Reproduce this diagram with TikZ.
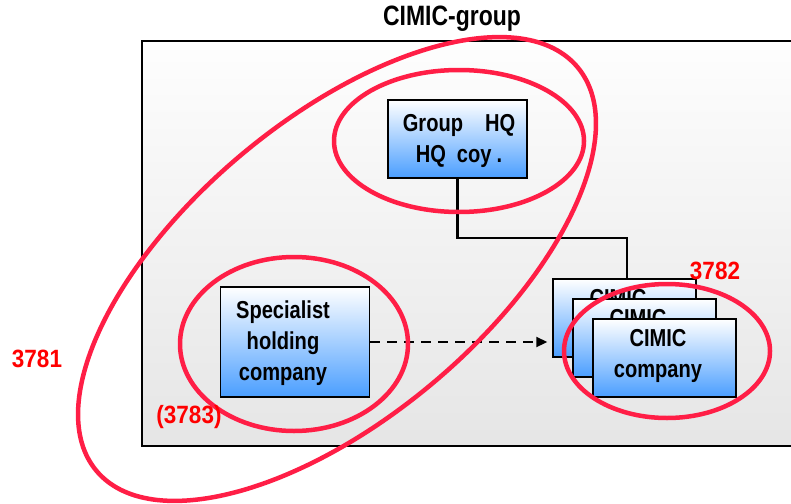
\documentclass[tikz,border=0pt]{standalone}
\usepackage{fontspec}
\newfontfamily\lbl{Liberation Sans}[FakeStretch=0.82]
\newfontfamily\lblw{Liberation Sans}[FakeStretch=0.9]
\usetikzlibrary{arrows.meta}
\definecolor{boxblue}{RGB}{74,158,255}
\definecolor{ringred}{RGB}{255,30,70}
\definecolor{labred}{RGB}{255,0,0}
\tikzset{
  bluebox/.style={draw=black, line width=1.5pt, top color=white, bottom color=boxblue, inner sep=0pt},
  boxtext/.style={font=\lbl\bfseries\fontsize{24.5}{31}\selectfont, align=center, inner sep=0pt},
  redlabel/.style={font=\lblw\bfseries\fontsize{25}{30}\selectfont, text=labred, inner sep=0pt},
  ring/.style={draw=ringred, line width=4.5pt},
  conn/.style={draw=black, line width=2.5pt},
  dasharrow/.style={draw=black, line width=2.2pt, dash pattern=on 10pt off 7pt, -{Triangle[length=11pt,width=10pt]}}
}
\begin{document}
\begin{tikzpicture}[x=1pt,y=-1pt]
\useasboundingbox (0,0) rectangle (791,503);
% outer group box
\shade[top color=gray!1, bottom color=gray!20] (142,41) rectangle (793,446);
\draw[black, line width=1.5pt] (793,41) -- (142,41) -- (142,446) -- (793,446);
\node[font=\lbl\bfseries\fontsize{28}{30}\selectfont, inner sep=0pt] (title) at (452,19) {CIMIC-group};
% boxes
\node[bluebox, minimum width=139pt, minimum height=78pt] (hq) at (457.5,139) {};
\node[boxtext] (hqtext) at (459,141) {Group\hspace{22pt}HQ\\HQ\hspace{11pt}coy\hspace{5pt}.};
\node[bluebox, minimum width=149pt, minimum height=110pt] (spec) at (295,342) {};
\node[boxtext] (spectext) at (283,343) {Specialist\\holding\\company};
\node[bluebox, minimum width=143pt, minimum height=78pt] (c1) at (624.5,318) {};
\node[boxtext] (c1text) at (618,316) {CIMIC\\company};
\node[bluebox, minimum width=143pt, minimum height=78pt] (c2) at (644.5,338) {};
\node[boxtext] (c2text) at (638,336) {CIMIC\\company};
\node[bluebox, minimum width=143pt, minimum height=78pt] (c3) at (664.5,358) {};
\node[boxtext] (c3text) at (658,356) {CIMIC\\company};
% connectors
\draw[conn] (hq.south) -- ++(0,59) -| ([xshift=2.5pt]c1.north);
\draw[dasharrow] (spec.east) -- ([xshift=-5pt]spec.east -| c1.west);
% rings
\draw[ring, rotate around={40:(337,269)}] (337,269) ellipse [x radius=314pt, y radius=149pt];
\draw[ring] (459,141) ellipse [x radius=125pt, y radius=71pt];
\draw[ring] (294,344) ellipse [x radius=114pt, y radius=87pt];
\draw[ring] (667,351) ellipse [x radius=103pt, y radius=67pt];
% labels
\node[redlabel] (l3781) at (37,359) {3781};
\node[redlabel] (l3782) at (715,271) {3782};
\node[redlabel] (l3783) at (189,417) {(3783)};
\end{tikzpicture}
\end{document}
